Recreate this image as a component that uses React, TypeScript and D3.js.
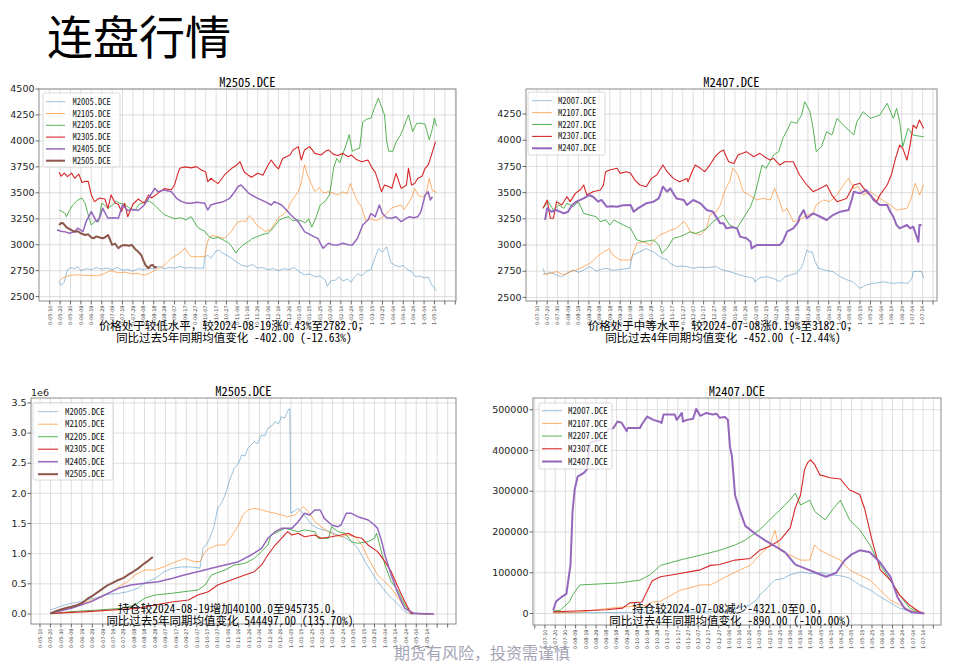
import React, { useEffect, useRef } from 'react';
import * as d3 from 'd3';

type Pt = [number, number];

// x tick labels (every 10 days, as printed on the chart)
const ticksMay = ['0-05-10', '0-05-20', '0-05-30', '0-06-09', '0-06-19', '0-06-29', '0-07-09', '0-07-19', '0-07-29', '0-08-08', '0-08-18', '0-08-28', '0-09-07', '0-09-17', '0-09-27', '0-10-07', '0-10-17', '0-10-27', '0-11-06', '0-11-16', '0-11-26', '0-12-06', '0-12-16', '0-12-26', '1-01-05', '1-01-15', '1-01-25', '1-02-04', '1-02-14', '1-02-24', '1-03-05', '1-03-15', '1-03-25', '1-04-04', '1-04-14', '1-04-24', '1-05-04', '1-05-14'];
const ticksJul = ['0-07-10', '0-07-20', '0-07-30', '0-08-09', '0-08-19', '0-08-29', '0-09-08', '0-09-18', '0-09-28', '0-10-08', '0-10-18', '0-10-28', '0-11-07', '0-11-17', '0-11-27', '0-12-07', '0-12-17', '0-12-27', '1-01-06', '1-01-16', '1-01-26', '1-02-05', '1-02-15', '1-02-25', '1-03-06', '1-03-16', '1-03-26', '1-04-05', '1-04-15', '1-04-25', '1-05-05', '1-05-15', '1-05-25', '1-06-04', '1-06-14', '1-06-24', '1-07-04', '1-07-14'];

const namesMay = ['M2005.DCE', 'M2105.DCE', 'M2205.DCE', 'M2305.DCE', 'M2405.DCE', 'M2505.DCE'];
const namesJul = ['M2007.DCE', 'M2107.DCE', 'M2207.DCE', 'M2307.DCE', 'M2407.DCE'];

const priceTicksMay = [2500, 2750, 3000, 3250, 3500, 3750, 4000, 4250, 4500];
const priceTicksJul = [2500, 2750, 3000, 3250, 3500, 3750, 4000, 4250];
const oiTicksMay = [0, 500000, 1000000, 1500000, 2000000, 2500000, 3000000, 3500000];
const oiTicksJul = [0, 100000, 200000, 300000, 400000, 500000];

// ---- prices, [day index, price] ----
const m2005Price: Pt[] = [[9, 2645], [11, 2610], [14, 2640], [17, 2760], [20, 2780], [24, 2770], [27, 2790], [30, 2750], [35, 2770], [40, 2760], [45, 2780], [50, 2765], [55, 2775], [60, 2760], [65, 2780], [70, 2755], [75, 2765], [80, 2745], [85, 2770], [90, 2760], [95, 2775], [100, 2770], [105, 2790], [110, 2770], [115, 2780], [120, 2775], [125, 2790], [130, 2775], [135, 2780], [140, 2775], [148, 2775], [149, 2880], [152, 2900], [155, 2870], [160, 2940], [163, 2950], [166, 2920], [170, 2900], [175, 2870], [180, 2830], [185, 2800], [190, 2790], [195, 2810], [200, 2775], [205, 2780], [210, 2760], [215, 2770], [220, 2750], [225, 2770], [230, 2760], [235, 2780], [240, 2740], [245, 2710], [250, 2720], [255, 2690], [260, 2700], [265, 2660], [267, 2600], [270, 2650], [275, 2660], [278, 2690], [282, 2650], [286, 2670], [290, 2640], [293, 2690], [296, 2720], [300, 2700], [305, 2750], [309, 2760], [312, 2850], [316, 2960], [320, 2930], [324, 2980], [328, 2830], [332, 2800], [336, 2790], [340, 2800], [344, 2760], [348, 2740], [352, 2690], [356, 2700], [360, 2680], [364, 2690], [367, 2620], [370, 2580], [372, 2555]];
const m2105Price: Pt[] = [[9, 2650], [12, 2680], [18, 2700], [25, 2710], [35, 2705], [46, 2700], [52, 2720], [56, 2740], [60, 2750], [65, 2730], [72, 2735], [80, 2720], [85, 2725], [91, 2705], [97, 2730], [104, 2770], [110, 2800], [114, 2840], [117, 2870], [122, 2900], [127, 2935], [130, 2970], [133, 2920], [136, 2885], [142, 2885], [149, 2885], [151, 3000], [153, 3060], [156, 3090], [160, 3080], [164, 3070], [168, 3060], [172, 3100], [175, 3130], [178, 3180], [181, 3220], [185, 3230], [188, 3220], [192, 3280], [195, 3250], [199, 3190], [203, 3160], [207, 3130], [212, 3140], [216, 3200], [220, 3260], [224, 3290], [228, 3320], [232, 3410], [236, 3470], [239, 3510], [242, 3600], [245, 3770], [248, 3670], [251, 3600], [255, 3510], [259, 3550], [263, 3500], [268, 3510], [272, 3500], [277, 3480], [282, 3510], [286, 3490], [289, 3590], [292, 3510], [296, 3420], [300, 3360], [304, 3230], [309, 3250], [314, 3230], [319, 3260], [324, 3300], [328, 3350], [333, 3370], [338, 3380], [341, 3340], [345, 3400], [348, 3450], [351, 3540], [355, 3470], [359, 3460], [362, 3490], [365, 3640], [368, 3520], [372, 3505]];
const m2205Price: Pt[] = [[9, 3335], [12, 3320], [15, 3300], [16, 3270], [19, 3330], [22, 3380], [27, 3430], [31, 3450], [34, 3400], [37, 3290], [40, 3190], [44, 3230], [47, 3220], [50, 3400], [53, 3380], [56, 3350], [60, 3380], [64, 3420], [67, 3400], [72, 3390], [77, 3350], [82, 3330], [86, 3390], [91, 3410], [96, 3420], [100, 3390], [105, 3340], [110, 3290], [115, 3270], [120, 3250], [126, 3260], [131, 3240], [136, 3270], [139, 3220], [143, 3160], [149, 3130], [153, 3080], [157, 3060], [162, 3070], [168, 3040], [172, 3020], [176, 2970], [179, 2920], [182, 2960], [186, 3000], [191, 3030], [195, 3060], [200, 3080], [205, 3100], [210, 3110], [213, 3140], [217, 3190], [221, 3240], [226, 3260], [230, 3270], [234, 3230], [238, 3240], [242, 3230], [246, 3210], [249, 3250], [252, 3170], [256, 3260], [260, 3380], [265, 3420], [269, 3480], [271, 3600], [273, 3740], [276, 3830], [279, 3790], [282, 3880], [285, 3960], [288, 4060], [291, 3900], [295, 3920], [298, 3930], [301, 4180], [305, 4210], [309, 4220], [312, 4310], [316, 4410], [319, 4330], [322, 4250], [324, 4000], [326, 3900], [330, 3900], [333, 3990], [337, 4050], [340, 4120], [343, 4200], [345, 4250], [349, 4090], [353, 4170], [357, 4170], [361, 4160], [365, 4010], [368, 4120], [370, 4220], [372, 4140]];
const m2305Price: Pt[] = [[9, 3697], [11, 3660], [14, 3690], [17, 3656], [21, 3690], [24, 3640], [28, 3680], [31, 3600], [34, 3610], [37, 3610], [40, 3480], [43, 3415], [48, 3450], [53, 3440], [56, 3350], [59, 3480], [63, 3400], [66, 3390], [69, 3320], [72, 3400], [75, 3270], [80, 3390], [85, 3440], [88, 3420], [91, 3400], [95, 3480], [98, 3450], [104, 3495], [110, 3540], [117, 3530], [120, 3575], [123, 3680], [125, 3736], [130, 3750], [136, 3740], [141, 3752], [146, 3720], [150, 3700], [152, 3608], [155, 3640], [159, 3608], [162, 3590], [168, 3672], [175, 3736], [179, 3760], [183, 3800], [187, 3700], [191, 3670], [194, 3650], [200, 3688], [205, 3670], [210, 3768], [213, 3816], [217, 3760], [220, 3730], [224, 3830], [228, 3850], [231, 3864], [234, 3913], [239, 3945], [242, 3816], [245, 3913], [250, 3945], [255, 3880], [261, 3864], [265, 3900], [268, 3913], [273, 3870], [277, 3860], [282, 3880], [287, 3848], [290, 3864], [295, 3820], [300, 3800], [306, 3816], [310, 3740], [313, 3700], [316, 3610], [319, 3511], [322, 3575], [326, 3560], [329, 3543], [333, 3688], [336, 3600], [338, 3543], [341, 3560], [343, 3575], [345, 3736], [348, 3575], [351, 3590], [354, 3640], [358, 3660], [361, 3736], [364, 3768], [367, 3860], [371, 3993]];
const m2405Price: Pt[] = [[7, 3142], [11, 3130], [14, 3126], [19, 3110], [24, 3126], [27, 3160], [32, 3126], [35, 3222], [40, 3319], [45, 3222], [48, 3260], [51, 3351], [56, 3255], [61, 3260], [66, 3255], [70, 3383], [75, 3330], [80, 3340], [85, 3330], [91, 3383], [97, 3479], [101, 3543], [104, 3511], [110, 3527], [117, 3511], [122, 3447], [127, 3415], [132, 3400], [136, 3400], [142, 3410], [149, 3399], [152, 3335], [155, 3383], [160, 3400], [165, 3410], [168, 3420], [173, 3447], [178, 3511], [181, 3560], [184, 3575], [187, 3543], [191, 3500], [194, 3479], [200, 3447], [207, 3415], [213, 3383], [216, 3415], [223, 3383], [228, 3330], [232, 3287], [239, 3222], [245, 3126], [250, 3100], [254, 3078], [258, 3060], [261, 2998], [263, 2966], [268, 3014], [272, 3000], [277, 2998], [282, 3014], [287, 3000], [291, 2998], [296, 3062], [301, 3190], [306, 3238], [309, 3300], [313, 3270], [317, 3383], [320, 3300], [324, 3260], [329, 3255], [333, 3270], [338, 3222], [342, 3250], [346, 3270], [350, 3260], [354, 3270], [357, 3319], [361, 3479], [364, 3511], [366, 3430], [368, 3463]];
const m2505Price: Pt[] = [[9, 3190], [11, 3210], [13, 3206], [16, 3170], [18, 3158], [21, 3140], [24, 3126], [27, 3130], [30, 3110], [34, 3094], [37, 3100], [40, 3070], [42, 3062], [45, 3080], [48, 3070], [51, 3062], [53, 3070], [56, 3094], [58, 3050], [60, 2998], [63, 3010], [66, 2966], [69, 2990], [72, 2998], [76, 2990], [79, 2998], [82, 2960], [85, 2934], [88, 2901], [90, 2850], [92, 2805], [95, 2773], [97, 2800], [99, 2805], [101, 2780], [103, 2790]];

const m2007Price: Pt[] = [[6, 2778], [8, 2720], [13, 2739], [19, 2714], [24, 2698], [29, 2730], [35, 2762], [40, 2739], [45, 2762], [51, 2794], [57, 2752], [63, 2770], [67, 2778], [72, 2760], [77, 2762], [83, 2770], [89, 2778], [92, 2905], [96, 2920], [99, 2937], [102, 2950], [105, 2968], [108, 2950], [112, 2937], [118, 2889], [121, 2873], [125, 2860], [128, 2825], [134, 2794], [139, 2800], [144, 2794], [150, 2778], [156, 2790], [163, 2784], [168, 2790], [172, 2794], [176, 2770], [179, 2762], [185, 2746], [190, 2730], [195, 2714], [201, 2698], [205, 2690], [208, 2682], [209, 2650], [214, 2689], [220, 2698], [227, 2682], [233, 2650], [238, 2698], [243, 2714], [249, 2730], [254, 2790], [256, 2841], [259, 2953], [262, 2930], [264, 2937], [267, 2841], [270, 2778], [276, 2762], [284, 2746], [291, 2698], [297, 2670], [303, 2650], [310, 2587], [316, 2619], [323, 2635], [328, 2640], [332, 2650], [337, 2640], [342, 2635], [348, 2640], [356, 2635], [360, 2690], [361, 2746], [366, 2750], [369, 2746], [371, 2682]];
const m2107Price: Pt[] = [[6, 2720], [13, 2730], [19, 2746], [26, 2714], [32, 2746], [38, 2762], [45, 2794], [51, 2825], [55, 2860], [58, 2889], [64, 2937], [67, 2950], [69, 2968], [73, 2905], [80, 2857], [85, 2857], [90, 2857], [93, 2937], [96, 3016], [102, 3032], [109, 3000], [114, 3060], [118, 3096], [124, 3120], [128, 3143], [134, 3159], [138, 3200], [141, 3223], [144, 3191], [147, 3127], [152, 3110], [157, 3096], [163, 3159], [166, 3286], [172, 3318], [176, 3382], [179, 3477], [182, 3557], [185, 3604], [188, 3732], [191, 3700], [193, 3668], [198, 3509], [204, 3477], [211, 3430], [217, 3445], [224, 3430], [228, 3541], [232, 3445], [236, 3318], [240, 3350], [246, 3223], [252, 3239], [259, 3286], [265, 3302], [268, 3382], [275, 3430], [281, 3414], [288, 3477], [294, 3573], [299, 3636], [304, 3541], [308, 3557], [313, 3477], [320, 3509], [329, 3445], [339, 3382], [345, 3334], [355, 3350], [359, 3445], [363, 3589], [366, 3509], [367, 3477], [371, 3573]];
const m2207Price: Pt[] = [[6, 3350], [11, 3414], [16, 3334], [21, 3382], [26, 3350], [29, 3398], [35, 3366], [40, 3414], [45, 3302], [51, 3286], [57, 3270], [61, 3223], [66, 3240], [70, 3191], [74, 3239], [80, 3207], [83, 3191], [90, 3159], [96, 3048], [102, 3032], [107, 3040], [112, 3048], [117, 3000], [120, 2921], [125, 2968], [131, 3064], [137, 3080], [142, 3100], [147, 3127], [152, 3110], [157, 3127], [163, 3159], [169, 3223], [176, 3270], [179, 3286], [185, 3191], [192, 3159], [198, 3255], [205, 3366], [209, 3477], [213, 3636], [216, 3763], [220, 3732], [227, 3859], [232, 3891], [236, 4018], [241, 4113], [244, 4177], [249, 4161], [254, 4240], [257, 4368], [262, 4272], [265, 4113], [268, 3891], [273, 3938], [278, 4082], [283, 4050], [288, 4209], [294, 4145], [304, 4050], [307, 4177], [313, 4272], [320, 4209], [329, 4240], [336, 4352], [342, 4209], [345, 4304], [348, 4177], [351, 3938], [356, 4113], [361, 4050], [366, 4040], [371, 4034]];
const m2307Price: Pt[] = [[6, 3350], [10, 3430], [13, 3255], [16, 3255], [19, 3414], [24, 3382], [29, 3461], [32, 3414], [37, 3493], [42, 3530], [45, 3573], [48, 3477], [54, 3509], [61, 3525], [64, 3573], [66, 3700], [70, 3716], [77, 3732], [80, 3684], [86, 3700], [90, 3684], [94, 3620], [99, 3573], [105, 3557], [110, 3636], [115, 3668], [121, 3763], [125, 3700], [131, 3636], [137, 3604], [144, 3636], [145, 3604], [149, 3700], [152, 3763], [157, 3732], [161, 3700], [166, 3763], [171, 3843], [176, 3891], [179, 3907], [184, 3795], [189, 3779], [193, 3859], [201, 3891], [208, 3843], [214, 3875], [220, 3830], [224, 3811], [227, 3827], [233, 3763], [238, 3795], [246, 3795], [252, 3668], [259, 3573], [265, 3509], [272, 3541], [278, 3573], [283, 3477], [288, 3414], [297, 3445], [304, 3573], [310, 3589], [316, 3509], [323, 3445], [326, 3414], [329, 3477], [336, 3573], [340, 3668], [344, 3827], [348, 3954], [351, 3922], [355, 3811], [358, 3954], [361, 4145], [364, 4113], [367, 4193], [371, 4113]];
const m2407Price: Pt[] = [[8, 3239], [10, 3350], [14, 3318], [19, 3334], [26, 3302], [30, 3318], [34, 3382], [38, 3414], [45, 3445], [50, 3477], [54, 3461], [59, 3414], [62, 3430], [67, 3366], [72, 3370], [77, 3366], [83, 3380], [90, 3382], [93, 3318], [97, 3350], [105, 3398], [112, 3414], [117, 3445], [121, 3557], [125, 3509], [128, 3541], [134, 3445], [141, 3430], [144, 3382], [150, 3430], [157, 3398], [163, 3334], [169, 3318], [176, 3207], [179, 3207], [182, 3159], [187, 3170], [192, 3159], [195, 3080], [201, 3064], [205, 3032], [206, 2968], [211, 3000], [220, 3000], [227, 3000], [233, 3000], [236, 3032], [240, 3127], [246, 3159], [251, 3223], [252, 3270], [256, 3334], [259, 3255], [265, 3302], [272, 3270], [278, 3239], [284, 3286], [291, 3318], [299, 3334], [302, 3430], [304, 3509], [310, 3493], [316, 3525], [320, 3477], [323, 3430], [329, 3382], [336, 3382], [339, 3318], [342, 3270], [345, 3191], [348, 3159], [355, 3191], [358, 3159], [361, 3175], [366, 3032], [367, 3191], [369, 3191]];

// ---- open interest, [day index, lots] ----
const m2005Oi: Pt[] = [[10, 66000], [17, 110000], [24, 150000], [30, 177000], [40, 205000], [46, 240000], [52, 260000], [62, 315000], [68, 330000], [75, 340000], [84, 370000], [94, 430000], [99, 500000], [103, 540000], [110, 590000], [115, 650000], [119, 700000], [126, 755000], [135, 780000], [145, 780000], [153, 760000], [156, 1090000], [161, 1200000], [166, 1420000], [170, 1750000], [174, 1850000], [177, 1970000], [182, 2250000], [186, 2420000], [190, 2500000], [193, 2640000], [196, 2620000], [199, 2750000], [205, 2860000], [208, 2820000], [212, 2970000], [215, 2950000], [218, 3080000], [222, 3120000], [225, 3190000], [228, 3150000], [231, 3270000], [234, 3250000], [236, 3330000], [238, 3400000], [239, 3400000], [240, 1670000], [247, 1750000], [253, 1640000], [260, 1480000], [266, 1420000], [276, 1370000], [285, 1310000], [292, 1260000], [298, 1200000], [304, 1090000], [311, 870000], [317, 700000], [323, 540000], [333, 320000], [343, 150000], [349, 40000], [355, 0], [370, 0]];
const m2105Oi: Pt[] = [[10, 11000], [24, 94000], [40, 177000], [55, 260000], [68, 370000], [78, 480000], [84, 536000], [91, 647000], [100, 730000], [110, 730000], [119, 785000], [126, 840000], [135, 896000], [138, 923000], [148, 868000], [153, 868000], [158, 1034000], [162, 1089000], [170, 1144000], [177, 1144000], [182, 1255000], [186, 1365000], [190, 1476000], [194, 1642000], [199, 1725000], [205, 1752000], [212, 1725000], [218, 1697000], [225, 1669000], [231, 1642000], [237, 1614000], [244, 1642000], [250, 1752000], [252, 1780000], [257, 1697000], [263, 1531000], [269, 1448000], [276, 1365000], [282, 1310000], [288, 1282000], [295, 1310000], [301, 1282000], [308, 1144000], [314, 923000], [323, 647000], [330, 536000], [336, 426000], [343, 260000], [349, 94000], [355, 11000], [372, 0]];
const m2205Oi: Pt[] = [[10, 0], [30, 39000], [56, 66000], [78, 94000], [91, 149000], [100, 260000], [110, 315000], [126, 343000], [138, 370000], [151, 398000], [158, 480000], [164, 647000], [177, 730000], [186, 813000], [196, 840000], [205, 923000], [212, 1034000], [218, 1144000], [221, 1310000], [228, 1365000], [234, 1420000], [241, 1393000], [247, 1365000], [253, 1393000], [263, 1365000], [266, 1255000], [276, 1255000], [279, 1448000], [285, 1365000], [292, 1338000], [298, 1200000], [304, 1172000], [314, 1200000], [320, 1255000], [322, 1338000], [325, 1144000], [330, 813000], [336, 536000], [343, 370000], [349, 149000], [355, 11000], [374, 0]];
const m2305Oi: Pt[] = [[10, 11000], [46, 39000], [94, 94000], [110, 149000], [126, 200000], [142, 232000], [151, 315000], [161, 370000], [170, 480000], [183, 564000], [196, 647000], [205, 702000], [212, 813000], [218, 978000], [225, 1144000], [231, 1255000], [237, 1365000], [241, 1310000], [247, 1338000], [253, 1282000], [263, 1310000], [269, 1255000], [279, 1282000], [288, 1310000], [295, 1338000], [301, 1282000], [308, 1255000], [314, 1144000], [323, 1034000], [330, 868000], [336, 702000], [343, 426000], [349, 205000], [355, 11000], [376, 0]];
const m2405Oi: Pt[] = [[10, 11000], [30, 94000], [49, 205000], [62, 315000], [75, 426000], [87, 480000], [100, 510000], [113, 536000], [126, 590000], [138, 647000], [151, 700000], [164, 757000], [177, 813000], [190, 868000], [202, 978000], [212, 1089000], [218, 1255000], [225, 1365000], [231, 1420000], [241, 1420000], [247, 1530000], [253, 1670000], [258, 1642000], [263, 1725000], [268, 1725000], [272, 1586000], [279, 1476000], [285, 1448000], [288, 1476000], [293, 1670000], [298, 1670000], [304, 1614000], [314, 1559000], [320, 1476000], [323, 1420000], [327, 1200000], [330, 978000], [336, 647000], [343, 315000], [349, 94000], [358, 11000], [377, 0]];
const m2505Oi: Pt[] = [[10, 11000], [17, 60000], [24, 94000], [30, 120000], [36, 149000], [41, 190000], [46, 260000], [51, 310000], [56, 370000], [60, 420000], [65, 480000], [70, 520000], [75, 564000], [80, 600000], [84, 647000], [89, 700000], [94, 757000], [100, 840000], [104, 890000], [108, 945735]];

const m2007Oi: Pt[] = [[8, 2000], [50, 2000], [100, 3000], [150, 3500], [180, 5000], [190, 15000], [200, 20000], [207, 33000], [210, 45000], [215, 57000], [220, 70000], [225, 82000], [232, 85000], [240, 95000], [250, 102000], [260, 98000], [270, 100000], [280, 95000], [290, 92000], [298, 87000], [308, 70000], [318, 58000], [328, 41000], [338, 26000], [347, 13000], [357, 6000], [365, 2000], [371, 0]];
const m2107Oi: Pt[] = [[8, 1000], [30, 2000], [57, 11000], [76, 16000], [93, 18000], [100, 21000], [105, 28000], [113, 30000], [124, 45000], [132, 57000], [142, 63000], [152, 70000], [162, 70000], [171, 82000], [181, 95000], [191, 107000], [201, 118000], [210, 143000], [217, 160000], [220, 168000], [225, 204000], [230, 155000], [240, 143000], [250, 131000], [259, 131000], [264, 168000], [269, 155000], [279, 143000], [289, 131000], [298, 107000], [308, 94000], [318, 82000], [328, 57000], [338, 33000], [347, 21000], [357, 8000], [367, 1000], [371, 0]];
const m2207Oi: Pt[] = [[8, 6000], [15, 8000], [24, 29000], [27, 45000], [34, 70000], [50, 72000], [73, 75000], [93, 82000], [103, 95000], [113, 118000], [132, 131000], [152, 143000], [171, 155000], [186, 168000], [196, 180000], [210, 205000], [220, 230000], [235, 266000], [240, 280000], [245, 295000], [250, 266000], [259, 278000], [264, 250000], [274, 230000], [283, 260000], [289, 278000], [298, 230000], [308, 205000], [318, 168000], [328, 118000], [338, 82000], [347, 45000], [357, 13000], [367, 2000], [371, 0]];
const m2307Oi: Pt[] = [[8, 4000], [30, 6000], [60, 9000], [76, 13000], [83, 26000], [95, 28000], [98, 45000], [105, 80000], [113, 90000], [125, 95000], [152, 107000], [162, 118000], [171, 120000], [186, 131000], [201, 135000], [210, 155000], [220, 165000], [230, 180000], [240, 210000], [245, 260000], [250, 290000], [254, 353000], [257, 370000], [260, 377000], [264, 365000], [269, 340000], [279, 333000], [289, 330000], [298, 303000], [308, 292000], [313, 255000], [320, 180000], [328, 107000], [338, 82000], [347, 45000], [357, 20000], [365, 6000], [371, 0]];
const m2407Oi: Pt[] = [[8, 8000], [11, 30000], [16, 40000], [21, 48000], [25, 120000], [27, 250000], [29, 303000], [32, 336000], [38, 345000], [41, 353000], [44, 419000], [47, 422000], [54, 425000], [62, 451000], [67, 455000], [71, 471000], [75, 468000], [80, 447000], [81, 455000], [93, 455000], [95, 465000], [100, 483000], [106, 475000], [113, 470000], [114, 467000], [116, 488000], [127, 488000], [129, 475000], [134, 492000], [135, 471000], [139, 475000], [145, 478000], [148, 502000], [152, 485000], [158, 492000], [164, 488000], [168, 490000], [171, 480000], [176, 482000], [179, 475000], [181, 410000], [183, 385000], [186, 290000], [191, 250000], [196, 215000], [206, 195000], [215, 180000], [225, 165000], [235, 150000], [245, 120000], [255, 110000], [265, 100000], [275, 90000], [285, 100000], [293, 130000], [300, 145000], [308, 155000], [318, 150000], [328, 125000], [338, 90000], [345, 40000], [352, 12000], [359, 3000], [371, 0]];

const notePriceMay = ['价格处于较低水平，较2024-08-19涨0.43%至2782.0，', '同比过去5年同期均值变化 -402.00 (-12.63%)'];
const notePriceJul = ['价格处于中等水平，较2024-07-08涨0.19%至3182.0，', '同比过去4年同期均值变化 -452.00 (-12.44%)'];
const noteOiMay = ['持仓较2024-08-19增加40100.0至945735.0，', '同比过去5年同期均值变化 544497.00 (135.70%)'];
const noteOiJul = ['持仓较2024-07-08减少-4321.0至0.0，', '同比过去4年同期均值变化 -890.00 (-100.00%)'];

const colors = ['#1f77b4', '#ff7f0e', '#2ca02c', '#d62728', '#9467bd', '#8c564b'];
const cjkMono = '"Noto Sans Mono CJK SC", "Noto Sans CJK SC", "DejaVu Sans Mono", monospace';
const tickFont = '"DejaVu Sans", sans-serif';

const App = () => {
  const svgRef = useRef<SVGSVGElement>(null);

  useEffect(() => {
    const svg = d3.select(svgRef.current);
    svg.selectAll('*').remove();

    const panels = [
      {
        title: 'M2505.DCE', names: namesMay,
        series: [m2005Price, m2105Price, m2205Price, m2305Price, m2405Price, m2505Price],
        ticks: ticksMay, yTicks: priceTicksMay, yFmt: (d: number) => String(d),
        box: { x0: 39, x1: 456, y0: 89, y1: 301 }, xDom: [-10.3, 390.7], yDom: [2458, 4500],
        legend: { x: 43, y: 93, w: 77, h: 74, row0: 101.7, step: 11.8, lx0: 46, lx1: 65, tx: 72.5, fs: 8.5 },
        note: notePriceMay, noteX: 234, noteY: 330, titleY: 87,
      },
      {
        title: 'M2407.DCE', names: namesJul,
        series: [m2007Price, m2107Price, m2207Price, m2307Price, m2407Price],
        ticks: ticksJul, yTicks: priceTicksJul, yFmt: (d: number) => String(d),
        box: { x0: 526, x1: 937, y0: 89, y1: 301 }, xDom: [-10.3, 383.8], yDom: [2466, 4489],
        legend: { x: 528, y: 92, w: 77, h: 63, row0: 100.7, step: 11.9, lx0: 532, lx1: 552, tx: 558, fs: 8.5 },
        note: notePriceJul, noteX: 723, noteY: 330, titleY: 87,
      },
      {
        title: 'M2505.DCE', names: namesMay,
        series: [m2005Oi, m2105Oi, m2205Oi, m2305Oi, m2405Oi, m2505Oi],
        ticks: ticksMay, yTicks: oiTicksMay, yFmt: (d: number) => (d / 1e6).toFixed(1),
        box: { x0: 31, x1: 456, y0: 398, y1: 624 }, xDom: [-8.6, 398], yDom: [-166000, 3582000],
        legend: { x: 33, y: 403, w: 80, h: 77, row0: 411.7, step: 12.5, lx0: 38, lx1: 58, tx: 65, fs: 8.8 },
        note: noteOiMay, noteX: 230, noteY: 613, titleY: 396, offset: '1e6',
      },
      {
        title: 'M2407.DCE', names: namesJul,
        series: [m2007Oi, m2107Oi, m2207Oi, m2307Oi, m2407Oi],
        ticks: ticksJul, yTicks: oiTicksJul, yFmt: (d: number) => String(d),
        box: { x0: 533, x1: 941, y0: 398, y1: 625 }, xDom: [-11.7, 387.5], yDom: [-28300, 528700],
        legend: { x: 539, y: 403, w: 73, h: 66, row0: 410.7, step: 12.7, lx0: 542, lx1: 562, tx: 568, fs: 8.8 },
        note: noteOiJul, noteX: 730, noteY: 613, titleY: 396,
      },
    ];

    svg.append('text')
      .attr('x', 47).attr('y', 54)
      .style('font-family', '"Noto Sans CJK SC", sans-serif')
      .style('font-size', '46px')
      .style('fill', '#000')
      .text('连盘行情');

    panels.forEach((p, pi) => {
      const { box } = p;
      const n = p.series.length;
      const alphas = n === 6 ? [0.45, 0.6, 0.8, 1, 1, 1] : [0.45, 0.6, 0.8, 1, 1];
      const widths = n === 6 ? [1, 1, 1, 1.1, 1.5, 2] : [1, 1, 1, 1.1, 2];

      const x = d3.scaleLinear().domain(p.xDom).range([box.x0, box.x1]);
      const y = d3.scaleLinear().domain(p.yDom).range([box.y1, box.y0]);
      const g = svg.append('g');

      const tickDays = d3.range(-10, 400, 10).filter(d => x(d) > box.x0 + 0.5 && x(d) < box.x1 - 0.5);

      // grid
      g.selectAll('.vgrid').data(tickDays).enter().append('line')
        .attr('x1', d => x(d)).attr('x2', d => x(d))
        .attr('y1', box.y0).attr('y2', box.y1)
        .style('stroke', '#d6d6d6').style('stroke-width', 0.8);
      g.selectAll('.hgrid').data(p.yTicks).enter().append('line')
        .attr('x1', box.x0).attr('x2', box.x1)
        .attr('y1', d => y(d)).attr('y2', d => y(d))
        .style('stroke', '#d6d6d6').style('stroke-width', 0.8);

      // lines
      svg.append('clipPath').attr('id', `clip${pi}`).append('rect')
        .attr('x', box.x0).attr('y', box.y0)
        .attr('width', box.x1 - box.x0).attr('height', box.y1 - box.y0);
      const line = d3.line<Pt>().x(d => x(d[0])).y(d => y(d[1]));
      const lg = g.append('g').attr('clip-path', `url(#clip${pi})`);
      p.series.forEach((s, i) => {
        lg.append('path')
          .attr('d', line(s))
          .style('fill', 'none')
          .style('stroke', colors[i])
          .style('stroke-opacity', alphas[i])
          .style('stroke-width', widths[i])
          .style('stroke-linejoin', 'round');
      });

      // frame
      g.append('rect')
        .attr('x', box.x0).attr('y', box.y0)
        .attr('width', box.x1 - box.x0).attr('height', box.y1 - box.y0)
        .style('fill', 'none').style('stroke', '#8c8c8c').style('stroke-width', 1);

      // x ticks
      g.selectAll('.xtick').data(tickDays).enter().append('line')
        .attr('x1', d => x(d)).attr('x2', d => x(d))
        .attr('y1', box.y1).attr('y2', box.y1 + 3.5)
        .style('stroke', '#444').style('stroke-width', 0.8);
      p.ticks.forEach((lab, i) => {
        const tx = x(i * 10);
        g.append('text')
          .attr('transform', `translate(${tx + 1.8},${box.y1 + 4.5}) rotate(-90)`)
          .attr('text-anchor', 'end')
          .style('font-family', tickFont)
          .style('font-size', '5px')
          .style('fill', '#333')
          .text(lab);
      });

      // y ticks
      g.selectAll('.ytick').data(p.yTicks).enter().append('line')
        .attr('x1', box.x0 - 3.5).attr('x2', box.x0)
        .attr('y1', d => y(d)).attr('y2', d => y(d))
        .style('stroke', '#444').style('stroke-width', 0.8);
      g.selectAll('.ylab').data(p.yTicks).enter().append('text')
        .attr('x', box.x0 - 4.5).attr('y', d => y(d)).attr('dy', '0.34em')
        .attr('text-anchor', 'end')
        .style('font-family', tickFont).style('font-size', '9.5px').style('fill', '#222')
        .text(d => p.yFmt(d));
      if (p.offset) {
        g.append('text').attr('x', box.x0).attr('y', box.y0 - 2)
          .style('font-family', tickFont).style('font-size', '9.5px').style('fill', '#222')
          .text(p.offset);
      }

      // title
      g.append('text')
        .attr('x', (box.x0 + box.x1) / 2).attr('y', p.titleY)
        .attr('text-anchor', 'middle')
        .style('font-family', cjkMono).style('font-size', '12.5px').style('fill', '#000')
        .text(p.title);

      // legend
      const L = p.legend;
      const leg = g.append('g');
      leg.append('rect')
        .attr('x', L.x).attr('y', L.y).attr('width', L.w).attr('height', L.h).attr('rx', 2)
        .style('fill', '#fff').style('fill-opacity', 0.8)
        .style('stroke', '#d0d0d0').style('stroke-width', 0.8);
      p.names.forEach((nm, i) => {
        const ry = L.row0 + i * L.step;
        leg.append('line')
          .attr('x1', L.lx0).attr('x2', L.lx1).attr('y1', ry).attr('y2', ry)
          .style('stroke', colors[i]).style('stroke-opacity', alphas[i]).style('stroke-width', widths[i]);
        leg.append('text')
          .attr('x', L.tx).attr('y', ry).attr('dy', '0.36em')
          .style('font-family', cjkMono).style('font-size', `${L.fs}px`).style('fill', '#111')
          .text(nm);
      });

      // annotation
      p.note.forEach((t, i) => {
        g.append('text')
          .attr('x', p.noteX).attr('y', p.noteY + i * 12.3)
          .attr('text-anchor', 'middle')
          .style('font-family', cjkMono).style('font-size', '11.5px').style('fill', '#000')
          .text(t);
      });
    });

    svg.append('text')
      .attr('x', 482).attr('y', 659)
      .attr('text-anchor', 'middle')
      .style('font-family', '"Noto Sans CJK SC", serif')
      .style('font-size', '16px')
      .style('fill', '#a4a4b4')
      .text('期货有风险，投资需谨慎');
  }, []);

  return (
    <svg
      ref={svgRef}
      width={964}
      height={668}
      style={{ position: 'absolute', left: 0, top: 0, background: '#fff' }}
    />
  );
};

export default App;
